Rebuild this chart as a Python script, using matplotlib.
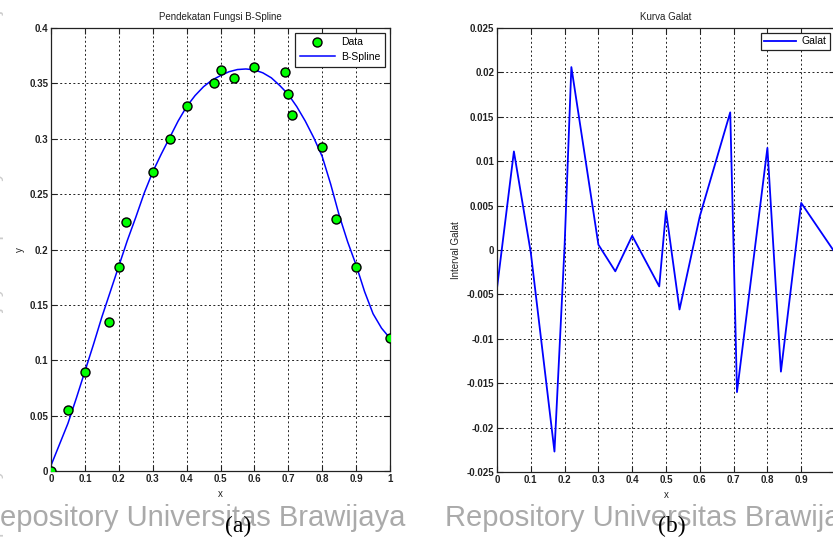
#!/usr/bin/env python
"""
Pendekatan fungsi B-Spline dan kurva galat.
"""

import numpy as np
import matplotlib
matplotlib.use("Agg")
import matplotlib.pyplot as plt
from matplotlib.ticker import FuncFormatter, MultipleLocator

# Titik data (x, y)
data_x = [0.0, 0.05, 0.1, 0.17, 0.2, 0.22, 0.3, 0.35, 0.4, 0.48,
          0.5, 0.54, 0.6, 0.69, 0.7, 0.71, 0.8, 0.84, 0.9, 1.0]
data_y = [0.0, 0.055, 0.089, 0.1345, 0.1845, 0.225, 0.27, 0.30, 0.33, 0.35,
          0.362, 0.3546, 0.365, 0.36, 0.34, 0.3215, 0.2923, 0.2278, 0.184, 0.1198]

# Kurva B-Spline, dibaca tiap 0.025
spline_x = [i * 0.025 for i in range(41)]
spline_y = [0.005, 0.024, 0.043, 0.066, 0.090, 0.114, 0.139, 0.162, 0.185, 0.208,
            0.229, 0.251, 0.270, 0.286, 0.301, 0.316, 0.329, 0.339, 0.347, 0.353,
            0.357, 0.3605, 0.3625, 0.363, 0.3622, 0.3595, 0.355, 0.348, 0.340, 0.329,
            0.316, 0.301, 0.284, 0.259, 0.231, 0.207, 0.186, 0.162, 0.142, 0.129,
            0.1198]

# Galat pada tiap titik data
galat = [-0.0043, 0.0111, -0.0003, -0.0227, 0.0005, 0.0206, 0.0006, -0.0024, 0.0016, -0.0041,
         0.0044, -0.0067, 0.0038, 0.0155, 0.0002, -0.0160, 0.0115, -0.0137, 0.0053, -0.0003]

W, H = 833, 539
FONT = "Liberation Sans"


def fmt(v, pos):
    v = round(v, 4) + 0.0
    if v == 0:
        return "0"
    return "%g" % v


def fmt_x_cut(v, pos):
    # label x = 1 pada grafik galat terpotong tepi gambar
    if round(v, 4) >= 1:
        return ""
    return fmt(v, pos)


def style_axes(ax):
    ax.grid(True, color="#222222", linestyle=(0, (2, 2.5)), linewidth=0.7)
    ax.tick_params(direction="in", length=4, width=0.8, top=True, right=True,
                   labelsize=7, colors="#222222", pad=2)
    for lab in ax.get_xticklabels() + ax.get_yticklabels():
        lab.set_fontfamily(FONT)
        lab.set_fontweight("bold")
    for s in ax.spines.values():
        s.set_linewidth(0.9)
        s.set_color("#222222")
    ax.xaxis.set_major_formatter(FuncFormatter(fmt))
    ax.yaxis.set_major_formatter(FuncFormatter(fmt))


def run():
    fig = plt.figure(figsize=(W / 100, H / 100), dpi=100)
    fig.patch.set_facecolor("white")

    # (a) B-Spline
    ax1 = fig.add_axes([51 / W, (H - 471) / H, (390 - 51) / W, (471 - 28) / H])
    ax1.plot(data_x, data_y, "o", color="#00ff00", markeredgecolor="black",
             markeredgewidth=1.0, markersize=6.5, label="Data", zorder=3)
    ax1.plot(spline_x, spline_y, color="#0000ff", linewidth=1.1, label="B-Spline", zorder=2)
    ax1.set_xlim(0, 1)
    ax1.set_ylim(0, 0.4)
    ax1.xaxis.set_major_locator(MultipleLocator(0.1))
    ax1.yaxis.set_major_locator(MultipleLocator(0.05))
    style_axes(ax1)
    ax1.set_title("Pendekatan Fungsi B-Spline", fontsize=7, family=FONT, color="#222222", pad=6)
    ax1.set_xlabel("x", fontsize=7, family=FONT, color="#222222", labelpad=4)
    ax1.set_ylabel("y", fontsize=7, family=FONT, color="#222222", labelpad=3)
    leg = ax1.legend(loc="upper right", prop={"family": FONT, "size": 7.5},
                     fancybox=False, edgecolor="#222222", framealpha=1,
                     borderaxespad=0.45, handlelength=3.4, handletextpad=0.6,
                     borderpad=0.45, labelspacing=0.45)
    leg.get_frame().set_linewidth(0.9)

    # (b) Kurva galat
    ax2 = fig.add_axes([497 / W, (H - 472) / H, (835 - 497) / W, (472 - 28) / H])
    ax2.plot(data_x, galat, color="#0000ff", linewidth=1.3, label="Galat")
    ax2.set_xlim(0, 1)
    ax2.set_ylim(-0.025, 0.025)
    ax2.xaxis.set_major_locator(MultipleLocator(0.1))
    ax2.yaxis.set_major_locator(MultipleLocator(0.005))
    style_axes(ax2)
    ax2.xaxis.set_major_formatter(FuncFormatter(fmt_x_cut))
    ax2.set_title("Kurva Galat", fontsize=7, family=FONT, color="#222222", pad=6)
    ax2.set_xlabel("x", fontsize=7, family=FONT, color="#222222", labelpad=4)
    ax2.set_ylabel("Interval Galat", fontsize=7, family=FONT, color="#222222", labelpad=4)
    leg2 = ax2.legend(loc="upper right", prop={"family": FONT, "size": 7.5},
                      fancybox=False, edgecolor="#222222", framealpha=1,
                      borderaxespad=0.45, handlelength=3.0, handletextpad=0.6,
                      borderpad=0.35)
    leg2.get_frame().set_linewidth(0.9)

    # watermark repositori
    for x0 in (-21, 445):
        fig.text(x0 / W, 1 - 518 / H, "Repository Universitas Brawijaya", fontsize=21,
                 family=FONT, color="#aaaaaa", ha="left", va="center", zorder=0)
    fig.text(-4 / W, 0.5, "Repository Universitas Brawijaya  Repository Universitas Brawijaya",
             fontsize=14, family=FONT, color="#cccccc", rotation=90,
             ha="center", va="center", zorder=0)

    # label sub-gambar
    fig.text(238 / W, 1 - 526 / H, "(a)", fontsize=17, family="Liberation Serif",
             color="black", ha="center", va="center")
    fig.text(672 / W, 1 - 526 / H, "(b)", fontsize=17, family="Liberation Serif",
             color="black", ha="center", va="center")

    fig.savefig("out.png", dpi=100)


if __name__ == '__main__':
    run()
